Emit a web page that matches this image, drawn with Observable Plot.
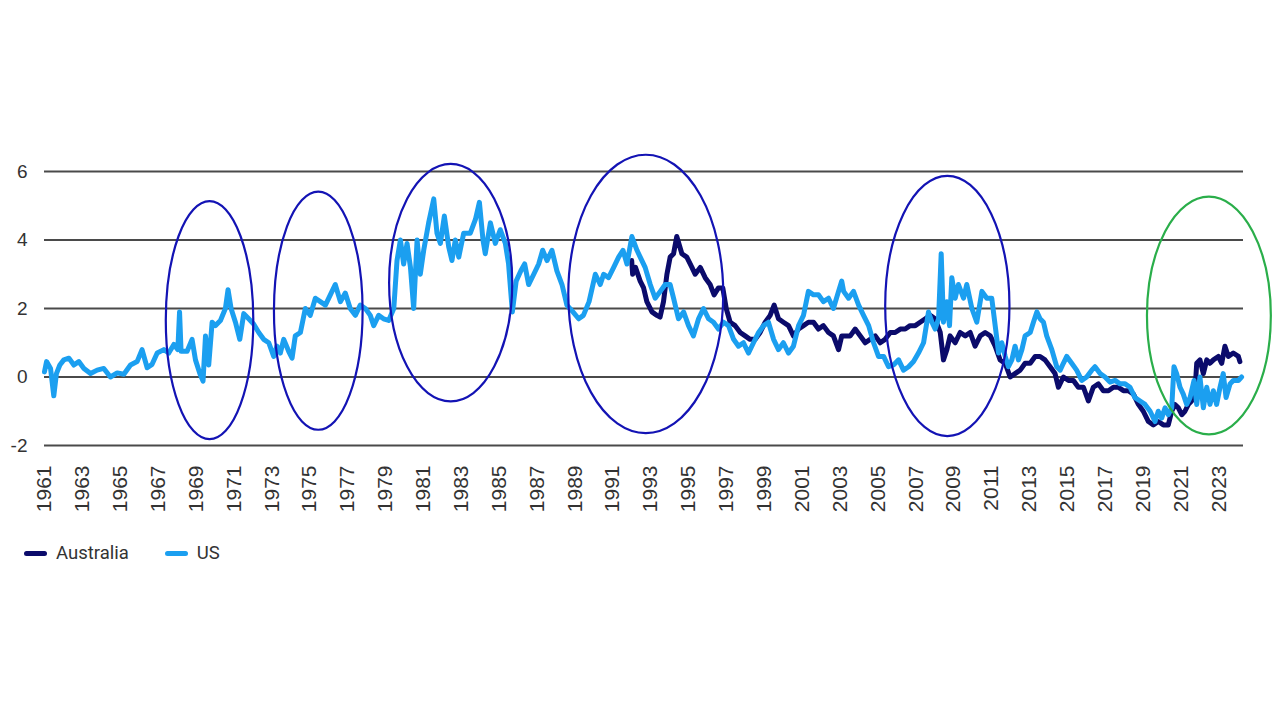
<!DOCTYPE html>
<html><head><meta charset="utf-8">
<script src="https://cdn.jsdelivr.net/npm/d3@7"></script>
<script src="https://cdn.jsdelivr.net/npm/@observablehq/plot@0.6"></script>
<style>
body{margin:0;background:#fff;width:1280px;height:720px;overflow:hidden;position:relative;}
#chart{position:absolute;left:0;top:0;}
#legend{position:absolute;top:542px;left:24px;display:flex;align-items:center;font-family:Roboto,"Liberation Sans",sans-serif;font-size:18.5px;color:#333;}
#legend .sw{display:inline-block;width:23px;height:5px;border-radius:3px;margin-right:9px;}
#legend .item{display:flex;align-items:center;margin-right:36px;}
</style></head><body>
<div id="chart"></div>
<div id="legend"></div>
<script>
// ---- data ----
const usYear = [1961.00,1961.11,1961.32,1961.49,1961.63,1961.81,1962.02,1962.29,1962.55,1962.81,1963.08,1963.43,1963.78,1964.13,1964.48,1964.84,1965.19,1965.54,1965.89,1966.15,1966.42,1966.68,1966.95,1967.30,1967.56,1967.83,1968.04,1968.13,1968.21,1968.53,1968.79,1968.97,1969.20,1969.37,1969.50,1969.67,1969.85,1970.02,1970.29,1970.55,1970.69,1970.85,1971.08,1971.31,1971.52,1971.78,1972.04,1972.31,1972.57,1972.84,1973.10,1973.27,1973.45,1973.63,1973.89,1974.07,1974.24,1974.51,1974.77,1975.03,1975.30,1975.56,1975.83,1976.09,1976.35,1976.62,1976.88,1977.14,1977.41,1977.67,1977.94,1978.20,1978.38,1978.64,1978.90,1979.17,1979.44,1979.61,1979.79,1979.96,1980.14,1980.32,1980.49,1980.67,1980.84,1981.02,1981.28,1981.55,1981.72,1981.90,1982.11,1982.34,1982.51,1982.69,1982.87,1983.13,1983.48,1983.75,1983.96,1984.15,1984.27,1984.54,1984.80,1985.06,1985.33,1985.50,1985.70,1985.90,1986.15,1986.35,1986.56,1986.83,1987.09,1987.30,1987.53,1987.79,1988.05,1988.32,1988.58,1988.90,1989.20,1989.45,1989.75,1990.08,1990.34,1990.52,1990.78,1991.05,1991.31,1991.54,1991.75,1992.01,1992.28,1992.45,1992.71,1992.98,1993.24,1993.51,1993.77,1994.03,1994.21,1994.47,1994.74,1995.00,1995.26,1995.53,1995.79,1996.06,1996.32,1996.58,1996.85,1997.11,1997.38,1997.64,1997.90,1998.17,1998.43,1998.70,1998.96,1999.22,1999.49,1999.75,2000.01,2000.28,2000.54,2000.81,2001.07,2001.33,2001.60,2001.86,2002.12,2002.39,2002.65,2002.92,2003.09,2003.19,2003.45,2003.71,2003.98,2004.24,2004.51,2004.77,2005.03,2005.30,2005.56,2005.82,2006.09,2006.35,2006.62,2006.88,2007.14,2007.41,2007.67,2007.85,2008.02,2008.20,2008.34,2008.46,2008.64,2008.78,2008.90,2009.08,2009.25,2009.52,2009.69,2009.96,2010.22,2010.49,2010.75,2011.01,2011.19,2011.37,2011.54,2011.72,2011.89,2012.07,2012.24,2012.42,2012.60,2012.77,2013.04,2013.21,2013.39,2013.56,2013.74,2013.91,2014.18,2014.44,2014.62,2014.79,2014.97,2015.23,2015.49,2015.76,2016.02,2016.29,2016.46,2016.73,2016.99,2017.25,2017.52,2017.78,2018.05,2018.31,2018.57,2018.84,2019.10,2019.37,2019.63,2019.80,2019.98,2020.16,2020.33,2020.51,2020.63,2020.77,2020.95,2021.12,2021.30,2021.48,2021.69,2021.83,2022.00,2022.18,2022.36,2022.53,2022.71,2022.88,2023.06,2023.23,2023.38,2023.59,2023.76,2024.03,2024.20];
const usValue = [0.15,0.45,0.25,-0.55,0.1,0.35,0.5,0.55,0.35,0.45,0.25,0.1,0.2,0.25,0.0,0.12,0.08,0.35,0.45,0.8,0.27,0.37,0.7,0.8,0.7,0.95,0.8,1.9,0.75,0.75,1.1,0.5,0.1,-0.12,1.2,0.35,1.6,1.5,1.65,2.0,2.55,2.0,1.6,1.1,1.85,1.7,1.55,1.3,1.1,1.0,0.6,0.9,0.7,1.1,0.75,0.55,1.2,1.3,2.0,1.8,2.3,2.2,2.1,2.4,2.7,2.2,2.45,2.0,1.8,2.1,2.0,1.8,1.5,1.8,1.7,1.65,2.0,3.4,4.0,3.3,3.9,3.2,2.0,4.0,3.0,3.7,4.5,5.2,4.2,3.9,4.7,3.8,3.4,4.0,3.5,4.2,4.2,4.6,5.1,4.0,3.6,4.5,3.9,4.3,3.9,3.3,1.9,2.8,3.1,3.3,2.7,3.0,3.3,3.7,3.4,3.7,3.1,2.7,2.1,1.9,1.7,1.8,2.2,3.0,2.7,3.0,2.9,3.2,3.5,3.7,3.3,4.1,3.7,3.5,3.2,2.7,2.3,2.5,2.7,2.7,2.3,1.7,1.9,1.5,1.2,1.7,2.0,1.7,1.6,1.4,1.6,1.5,1.1,0.9,1.0,0.7,1.0,1.3,1.5,1.6,1.1,0.8,1.0,0.7,0.9,1.5,1.8,2.5,2.4,2.4,2.2,2.3,2.0,2.5,2.8,2.5,2.3,2.5,2.1,1.8,1.5,1.0,0.6,0.6,0.3,0.35,0.5,0.2,0.3,0.45,0.7,1.0,1.9,1.6,1.4,1.7,3.6,1.6,2.2,1.5,2.9,2.3,2.7,2.3,2.7,2.0,1.6,2.5,2.3,2.3,1.5,0.7,1.0,0.6,0.3,0.5,0.9,0.5,0.8,1.2,1.3,1.6,1.9,1.7,1.6,1.2,0.8,0.3,0.2,0.4,0.6,0.4,0.2,-0.1,0.0,0.2,0.3,0.1,0.0,-0.15,-0.1,-0.2,-0.2,-0.3,-0.6,-0.7,-0.8,-1.0,-1.3,-1.0,-1.2,-0.9,-1.1,-0.9,0.3,0.1,-0.3,-0.5,-0.8,-0.6,-0.1,-0.8,0.0,-0.9,-0.3,-0.8,-0.4,-0.8,-0.3,0.1,-0.6,-0.2,-0.1,-0.1,0.0];

const auYear = [1992.00,1992.05,1992.20,1992.45,1992.63,1992.80,1993.07,1993.33,1993.50,1993.68,1993.86,1994.03,1994.21,1994.38,1994.65,1994.91,1995.18,1995.35,1995.62,1995.88,1996.14,1996.35,1996.58,1996.81,1996.99,1997.20,1997.46,1997.73,1997.99,1998.25,1998.52,1998.78,1999.05,1999.31,1999.52,1999.75,2000.01,2000.28,2000.54,2000.81,2001.07,2001.33,2001.60,2001.86,2002.12,2002.39,2002.65,2002.92,2003.09,2003.27,2003.54,2003.80,2004.07,2004.33,2004.59,2004.86,2005.12,2005.38,2005.65,2005.91,2006.18,2006.44,2006.70,2006.97,2007.23,2007.50,2007.76,2008.02,2008.29,2008.46,2008.64,2008.81,2009.08,2009.34,2009.61,2009.87,2010.13,2010.40,2010.66,2010.93,2011.19,2011.45,2011.72,2011.98,2012.24,2012.51,2012.77,2013.04,2013.30,2013.56,2013.82,2014.09,2014.35,2014.53,2014.79,2015.06,2015.32,2015.58,2015.85,2016.11,2016.37,2016.64,2016.90,2017.17,2017.43,2017.69,2017.96,2018.22,2018.49,2018.75,2019.01,2019.28,2019.54,2019.80,2020.07,2020.33,2020.51,2020.68,2020.86,2021.04,2021.21,2021.39,2021.56,2021.74,2021.83,2022.00,2022.18,2022.36,2022.53,2022.71,2022.97,2023.15,2023.32,2023.50,2023.76,2024.03,2024.11];
const auValue = [3.4,3.0,3.2,2.8,2.6,2.2,1.9,1.8,1.75,2.2,3.0,3.5,3.6,4.1,3.6,3.5,3.2,3.0,3.2,2.9,2.7,2.4,2.6,2.6,2.0,1.6,1.5,1.3,1.2,1.1,1.1,1.3,1.6,1.8,2.1,1.7,1.6,1.5,1.2,1.4,1.5,1.6,1.6,1.4,1.5,1.3,1.2,0.8,1.2,1.2,1.2,1.4,1.2,1.0,1.1,1.2,1.0,1.1,1.3,1.3,1.4,1.4,1.5,1.5,1.6,1.7,1.8,1.7,1.3,0.5,0.8,1.2,1.0,1.3,1.2,1.3,0.9,1.2,1.3,1.2,0.9,0.5,0.4,0.0,0.1,0.2,0.4,0.4,0.6,0.6,0.5,0.3,0.1,-0.3,0.0,-0.1,-0.1,-0.3,-0.3,-0.7,-0.3,-0.2,-0.4,-0.4,-0.3,-0.3,-0.4,-0.4,-0.5,-0.8,-1.0,-1.3,-1.4,-1.3,-1.4,-1.4,-1.0,-0.8,-0.9,-1.1,-1.0,-0.8,-0.7,-0.4,0.4,0.5,0.1,0.5,0.4,0.5,0.6,0.4,0.9,0.6,0.7,0.6,0.45];

const yTicks = [-2, 0, 2, 4, 6];
const xTicks = d3.range(1961, 2024, 2);
const seriesNames = ["Australia", "US"];

// annotation ellipses: centre (year, value) and half-extent (years, value units)
const ellipseYear  = [1969.74, 1975.48, 1982.47, 1992.77, 2008.69, 2022.50];
const ellipseValue = [1.645, 1.92, 2.74, 2.41, 2.06, 1.78];
const ellipseHalfYears = [2.31, 2.34, 3.25, 4.09, 3.28, 3.27];
const ellipseHalfValue = [3.475, 3.475, 3.466, 4.065, 3.80, 3.47];

// ---- styles ----
const colors = {Australia: "#0b0b6b", US: "#1b9ff0"};
const ellipseColors = ["#1313b4","#1313b4","#1313b4","#1313b4","#1313b4","#2aae4a"];

const usRows = usYear.map((y, i) => ({year: y, value: usValue[i]}));
const auRows = auYear.map((y, i) => ({year: y, value: auValue[i]}));

const plot = Plot.plot({
  width: 1280, height: 530,
  marginLeft: 44, marginRight: 37, marginTop: 171, marginBottom: 85,
  x: {domain: [1961, 2024.3]},
  y: {domain: [-2, 6]},
  style: {fontFamily: "'Liberation Sans', Arial, sans-serif", background: "white", color: "#333", overflow: "visible"},
  marks: [
    Plot.ruleY(yTicks, {stroke: "#4a4a4a", strokeWidth: 1.8}),
    Plot.axisY({ticks: yTicks, tickSize: 0, tickPadding: 17, tickFormat: d => String(d), fontSize: 19, label: null}),
    Plot.axisX({ticks: xTicks, tickSize: 0, tickPadding: 20, tickRotate: -90, tickFormat: d => String(d), fontSize: 21, label: null}),
    Plot.line(auRows, {x: "year", y: "value", stroke: colors.Australia, strokeWidth: 5, strokeLinejoin: "round"}),
    Plot.line(usRows, {x: "year", y: "value", stroke: colors.US, strokeWidth: 5, strokeLinejoin: "round"})
  ]
});

const sx = plot.scale("x"), sy = plot.scale("y");
const svg = d3.select(plot);
ellipseYear.forEach((yr, i) => {
  const cx = sx.apply(yr), cy = sy.apply(ellipseValue[i]);
  const rx = Math.abs(sx.apply(yr + ellipseHalfYears[i]) - cx);
  const ry = Math.abs(sy.apply(ellipseValue[i] + ellipseHalfValue[i]) - cy);
  svg.append("ellipse").attr("cx", cx).attr("cy", cy).attr("rx", rx).attr("ry", ry)
    .attr("fill", "none").attr("stroke", ellipseColors[i]).attr("stroke-width", 2.2);
});
document.getElementById("chart").appendChild(plot);

const legend = d3.select("#legend");
seriesNames.forEach(n => {
  const it = legend.append("div").attr("class", "item");
  it.append("span").attr("class", "sw").style("background", colors[n]);
  it.append("span").text(n);
});
</script>
</body></html>
